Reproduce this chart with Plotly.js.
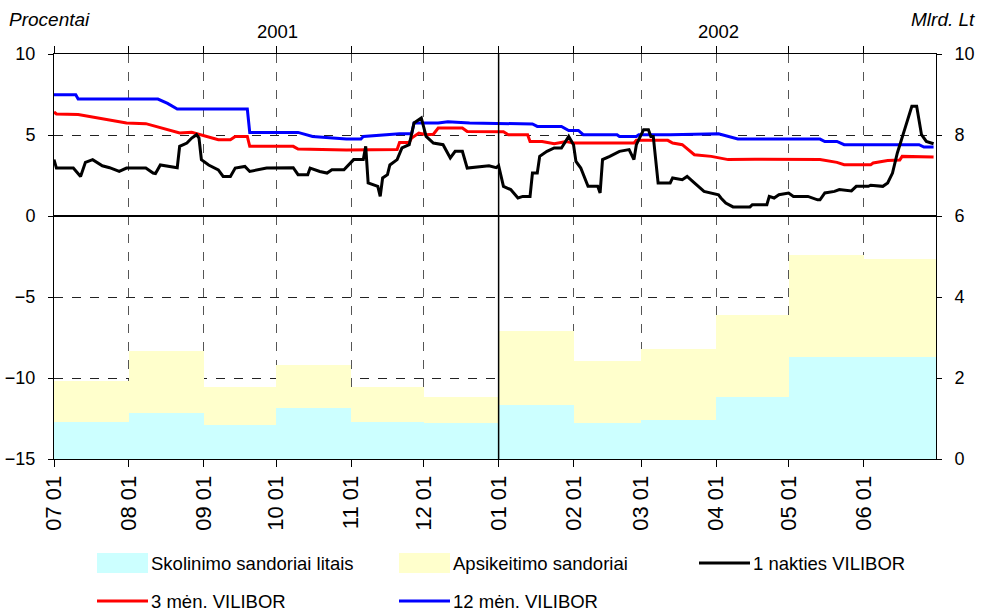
<!DOCTYPE html>
<html>
<head>
<meta charset="utf-8">
<script src="https://cdn.plot.ly/plotly-3.0.1.min.js"></script>
<style>html,body{margin:0;padding:0;background:#fff;}#chart{width:982px;height:615px;}</style>
</head>
<body>
<div id="chart"></div>
<script>
// ---- Data ----
const monthStarts = ['2001-07-01','2001-08-01','2001-09-01','2001-10-01','2001-11-01','2001-12-01',
                     '2002-01-01','2002-02-01','2002-03-01','2002-04-01','2002-05-01','2002-06-01'];
const monthEnds   = ['2001-08-01','2001-09-01','2001-10-01','2001-11-01','2001-12-01','2002-01-01',
                     '2002-02-01','2002-03-01','2002-04-01','2002-05-01','2002-06-01','2002-07-01'];
const skolinimo   = [0.92, 1.13, 0.83, 1.27, 0.92, 0.88, 1.33, 0.88, 0.97, 1.52, 2.51, 2.51];
const apsikeitimo = [1.01, 1.54, 0.96, 1.06, 0.87, 0.66, 1.84, 1.55, 1.75, 2.04, 2.53, 2.44];

const tickDates  = ['2001-07-01','2001-08-01','2001-09-01','2001-10-01','2001-11-01','2001-12-01',
                    '2002-01-01','2002-02-01','2002-03-01','2002-04-01','2002-05-01','2002-06-01'];
const tickLabels = ['07 01','08 01','09 01','10 01','11 01','12 01','01 01','02 01','03 01','04 01','05 01','06 01'];

const v12Dates = ['2001-07-01','2001-07-10','2001-07-11','2001-08-13','2001-08-17','2001-08-21','2001-09-19','2001-09-20',
  '2001-10-10','2001-10-16','2001-10-30','2001-11-05','2001-11-06','2001-11-21','2001-11-26','2001-11-27','2001-12-07',
  '2001-12-11','2001-12-20','2002-01-13','2002-01-15','2002-01-17','2002-01-27','2002-01-30','2002-02-03','2002-02-05',
  '2002-02-19','2002-02-20','2002-02-27','2002-02-28','2002-03-13','2002-04-02','2002-04-06','2002-04-10','2002-05-14',
  '2002-05-16','2002-05-21','2002-05-24','2002-06-24','2002-06-26','2002-06-30'];
const v12Vals = [7.49,7.49,7.22,7.22,6.95,6.6,6.6,5.16,
  5.16,4.91,4.75,4.75,4.91,5.08,5.08,5.74,5.74,
  5.82,5.74,5.68,5.68,5.53,5.53,5.28,5.28,5.02,
  5.02,4.91,4.91,5.02,5.02,5.08,4.91,4.75,4.75,
  4.6,4.6,4.4,4.4,4.26,4.26];

const v3Dates = ['2001-07-01','2001-07-02','2001-07-11','2001-07-19','2001-07-28','2001-07-31','2001-08-08','2001-08-17',
  '2001-08-22','2001-08-27','2001-09-02','2001-09-07','2001-09-12','2001-09-14','2001-09-19','2001-09-20','2001-10-08',
  '2001-10-10','2001-10-30','2001-11-20','2001-11-21','2001-11-25','2001-11-26','2001-11-29','2001-12-02','2001-12-05',
  '2001-12-07','2001-12-17','2001-12-19','2001-12-31','2002-01-03','2002-01-05','2002-01-13','2002-01-14','2002-01-19',
  '2002-01-24','2002-01-29','2002-02-01','2002-02-26','2002-02-27','2002-03-12','2002-03-14','2002-03-18','2002-03-23',
  '2002-03-30','2002-04-06','2002-04-17','2002-05-14','2002-05-21','2002-05-24','2002-06-04','2002-06-05','2002-06-11',
  '2002-06-16','2002-06-17','2002-06-30'];
const v3Vals = [6.42,6.3,6.27,6.05,5.84,5.74,5.7,5.33,
  5.12,5.17,4.91,4.71,4.71,4.91,4.91,4.30,4.30,
  4.13,4.07,4.10,4.54,4.54,4.81,5.12,5.02,5.05,
  5.43,5.43,5.22,5.22,5.2,5.02,5.02,4.6,4.6,
  4.46,4.6,4.5,4.5,4.67,4.67,4.5,4.4,3.78,
  3.68,3.48,3.5,3.48,3.31,3.17,3.17,3.27,3.43,
  3.45,3.68,3.64];

const v1Dates = ['2001-07-01','2001-07-02','2001-07-09','2001-07-12','2001-07-14','2001-07-17','2001-07-21','2001-07-24',
  '2001-07-28','2001-07-31','2001-08-08','2001-08-11','2001-08-12','2001-08-14','2001-08-21','2001-08-22','2001-08-25',
  '2001-08-27','2001-08-29','2001-08-30','2001-08-31','2001-09-03','2001-09-07','2001-09-09','2001-09-12','2001-09-14',
  '2001-09-18','2001-09-20','2001-09-27','2001-10-03','2001-10-08','2001-10-10','2001-10-14','2001-10-15','2001-10-19',
  '2001-10-22','2001-10-24','2001-10-29','2001-11-02','2001-11-06','2001-11-07','2001-11-08','2001-11-12','2001-11-13',
  '2001-11-14','2001-11-16','2001-11-17','2001-11-20','2001-11-22','2001-11-25','2001-11-27','2001-11-30','2001-12-02',
  '2001-12-05','2001-12-09','2001-12-12','2001-12-14','2001-12-17','2001-12-19','2001-12-28','2001-12-31','2002-01-01',
  '2002-01-03','2002-01-06','2002-01-09','2002-01-11','2002-01-14','2002-01-15','2002-01-17','2002-01-18','2002-01-21',
  '2002-01-24','2002-01-27','2002-01-30','2002-02-01','2002-02-02','2002-02-04','2002-02-07','2002-02-11','2002-02-12',
  '2002-02-13','2002-02-16','2002-02-20','2002-02-24','2002-02-26','2002-02-27','2002-03-02','2002-03-04','2002-03-05',
  '2002-03-06','2002-03-08','2002-03-13','2002-03-14','2002-03-18','2002-03-20','2002-03-23','2002-03-27','2002-04-02',
  '2002-04-03','2002-04-05','2002-04-08','2002-04-15','2002-04-16','2002-04-22','2002-04-23','2002-04-25','2002-04-27',
  '2002-05-01','2002-05-03','2002-05-09','2002-05-13','2002-05-14','2002-05-16','2002-05-20','2002-05-22','2002-05-27',
  '2002-05-29','2002-06-03','2002-06-04','2002-06-09','2002-06-11','2002-06-13','2002-06-15','2002-06-18','2002-06-21',
  '2002-06-23','2002-06-25','2002-06-27','2002-06-30'];
const v1Vals = [3.48,2.96,2.96,2.44,3.31,3.48,3.10,2.98,
  2.75,2.96,2.96,2.65,2.62,3.15,2.98,4.30,4.50,
  4.81,5.02,4.81,3.48,3.15,2.85,2.44,2.44,2.96,
  3.06,2.75,2.96,2.98,2.98,2.55,2.55,2.96,2.75,
  2.65,2.85,2.85,3.48,3.48,4.30,2.04,1.83,1.21,
  2.35,2.55,3.15,3.48,4.20,4.40,5.74,6.05,4.91,
  4.50,4.40,3.58,3.99,3.99,2.96,3.10,2.98,3.10,
  1.83,1.63,1.11,1.21,1.21,2.65,2.65,3.68,3.99,
  4.20,4.20,4.91,4.40,3.37,2.96,1.83,1.83,1.42,
  3.48,3.68,3.99,4.10,3.48,4.40,5.33,5.33,4.91,
  4.91,2.04,2.04,2.35,2.24,2.44,2.04,1.52,1.31,
  1.11,0.80,0.56,0.56,0.70,0.70,1.21,1.11,1.31,
  1.42,1.21,1.21,1.00,1.00,1.42,1.52,1.63,1.55,
  1.83,1.83,1.90,1.83,2.04,2.65,3.89,5.33,6.77,
  6.77,5.02,4.60,4.46];

const legendNames = ['Skolinimo sandoriai litais','Apsikeitimo sandoriai','1 nakties VILIBOR','3 mėn. VILIBOR','12 mėn. VILIBOR'];

// ---- Build ----
const widths = monthStarts.map((d,i) => new Date(monthEnds[i]) - new Date(d));
const FONT = 'Liberation Sans, Arial, sans-serif';

const traces = [
  {type:'bar', x:monthStarts, y:skolinimo, width:widths, offset:0, yaxis:'y2', name:legendNames[0],
   marker:{color:'#CCFFFF', line:{width:0}}, hoverinfo:'x+y'},
  {type:'bar', x:monthStarts, y:apsikeitimo, width:widths, offset:0, yaxis:'y2', name:legendNames[1],
   marker:{color:'#FFFFCC', line:{width:0}}, hoverinfo:'x+y'},
  {type:'scatter', mode:'lines', x:v12Dates, y:v12Vals, name:legendNames[4], line:{color:'#0000FF', width:3}},
  {type:'scatter', mode:'lines', x:v3Dates, y:v3Vals, name:legendNames[3], line:{color:'#FF0000', width:3}},
  {type:'scatter', mode:'lines', x:v1Dates, y:v1Vals, name:legendNames[2], line:{color:'#000000', width:3}}
];

// custom legend (paper coords of plot area)
const L = 54, W = 882, B = 459, H = 405;
const px = v => (v - L) / W, py = v => (B - v) / H;
const legendItems = [
  {name:legendNames[0], kind:'rect', color:'#CCFFFF', x:97, y:563},
  {name:legendNames[1], kind:'rect', color:'#FFFFCC', x:399, y:563},
  {name:legendNames[2], kind:'line', color:'#000000', x:699, y:563},
  {name:legendNames[3], kind:'line', color:'#FF0000', x:97, y:601},
  {name:legendNames[4], kind:'line', color:'#0000FF', x:399, y:601}
];
const shapes = [
  {type:'line', xref:'x', yref:'paper', x0:'2002-01-01', x1:'2002-01-01', y0:0, y1:1, line:{color:'#000', width:1.5}}
];
const annotations = [
  {text:'<i>Procentai</i>', xref:'paper', yref:'paper', x:px(7), y:py(19), xanchor:'left', yanchor:'middle', showarrow:false, font:{size:19, family:FONT, color:'#000'}},
  {text:'<i>Mlrd. Lt</i>', xref:'paper', yref:'paper', x:px(977), y:py(19), xanchor:'right', yanchor:'middle', showarrow:false, font:{size:19, family:FONT, color:'#000'}},
  {text:'2001', xref:'paper', yref:'paper', x:px(277), y:py(31), xanchor:'center', yanchor:'middle', showarrow:false, font:{size:18.5, family:FONT, color:'#000'}},
  {text:'2002', xref:'paper', yref:'paper', x:px(718), y:py(31), xanchor:'center', yanchor:'middle', showarrow:false, font:{size:18.5, family:FONT, color:'#000'}}
];
legendItems.forEach(it => {
  const x0 = px(it.x), x1 = px(it.x + 51);
  if (it.kind === 'rect') {
    shapes.push({type:'rect', xref:'paper', yref:'paper', x0:x0, x1:x1, y0:py(it.y + 10), y1:py(it.y - 10),
      fillcolor:it.color, line:{width:0}});
  } else {
    shapes.push({type:'line', xref:'paper', yref:'paper', x0:x0, x1:x1, y0:py(it.y), y1:py(it.y),
      line:{color:it.color, width:3}});
  }
  annotations.push({text:it.name, xref:'paper', yref:'paper', x:px(it.x + 52), y:py(it.y), xanchor:'left', yanchor:'middle',
    showarrow:false, font:{size:18.5, family:FONT, color:'#000'}});
});

const layout = {
  width:982, height:615,
  margin:{l:54, r:46, t:54, b:156},
  paper_bgcolor:'#fff', plot_bgcolor:'#fff',
  font:{family:FONT, size:16, color:'#000'},
  showlegend:false,
  barmode:'stack', bargap:0,
  xaxis:{type:'date', range:['2001-07-01','2002-07-01'], tickvals:tickDates, ticktext:tickLabels, tickangle:-90,
    ticks:'outside', ticklen:7, tickcolor:'#000', showline:true, linecolor:'#000', linewidth:1, mirror:'ticks',
    showgrid:true, gridcolor:'#555', griddash:'dash', gridwidth:1, tickfont:{size:22}, zeroline:false},
  yaxis:{range:[-15,10], dtick:5, tick0:0, ticks:'outside', ticklen:5, tickcolor:'#000', showline:true, linecolor:'#000',
    showgrid:true, gridcolor:'#222', griddash:'dash', gridwidth:1, zeroline:true, zerolinecolor:'#000', zerolinewidth:1.5,
    tickfont:{size:18}, ticklabelstandoff:9},
  yaxis2:{overlaying:'y', side:'right', range:[0,10], dtick:2, tick0:0, ticks:'outside', ticklen:5, tickcolor:'#000',
    showline:true, linecolor:'#000', showgrid:false, zeroline:false, tickfont:{size:18}, ticklabelstandoff:9},
  shapes:shapes,
  annotations:annotations
};

Plotly.newPlot('chart', traces, layout, {displayModeBar:false, staticPlot:true});
</script>
</body>
</html>
